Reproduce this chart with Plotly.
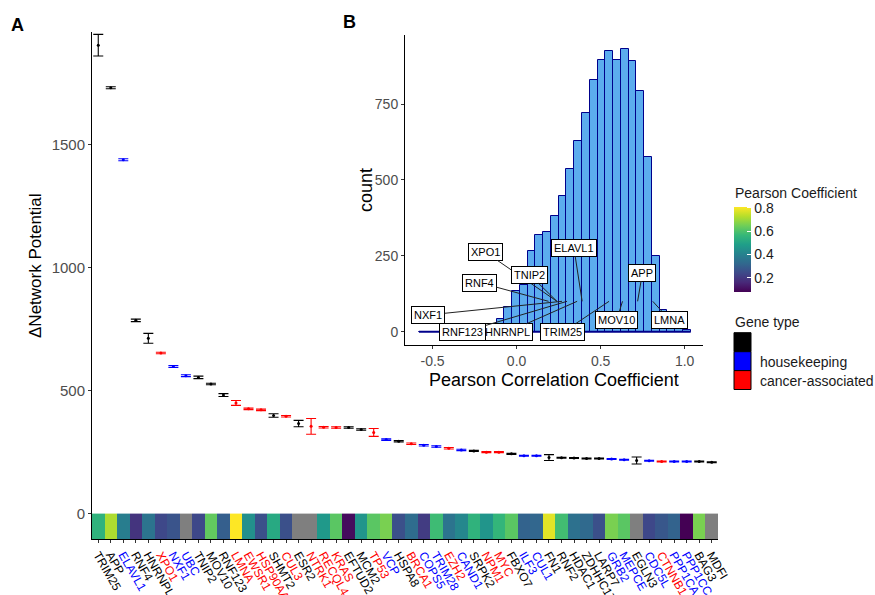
import plotly.graph_objects as go

W, H = 875, 595
def px(x): return x / W
def py(y): return (H - y) / H

FONT = "Liberation Sans, Arial, sans-serif"

# ---------------- data ----------------
genes = ["TRIM25", "APP", "ELAVL1", "RNF4", "HNRNPL", "XPO1", "NXF1", "UBC", "TNIP2", "MOV10",
         "RNF123", "LMNA", "EWSR1", "HSP90AA1", "SHMT2", "CUL3", "ESR2", "NTRK1", "RECQL4", "KRAS",
         "EFTUD2", "MCM2", "TP53", "VCP", "HSPA8", "BRCA1", "COPS5", "TRIM28", "EZH2", "CAND1",
         "SRPK2", "NPM1", "MYC", "FBXO7", "ILF3", "CUL1", "FN1", "RNF2", "HDAC1", "ZDHHC17",
         "LARP7", "GRB2", "MEPCE", "EGLN3", "CDC5L", "CTNNB1", "PPP1CA", "PPP1CC", "BAG3", "MDFI"]
gene_type = ["non", "non", "hk", "non", "non", "ca", "hk", "hk", "non", "non",
             "non", "ca", "ca", "ca", "non", "ca", "non", "ca", "ca", "ca",
             "non", "non", "ca", "hk", "non", "ca", "hk", "hk", "ca", "hk",
             "non", "ca", "ca", "non", "hk", "hk", "non", "non", "non", "non",
             "non", "hk", "hk", "non", "hk", "ca", "hk", "hk", "non", "non"]
delta_np = [1905, 1732, 1439, 786, 713, 653, 598, 561, 554, 527,
            482, 450, 426, 422, 399, 396, 366, 355, 351, 350,
            350, 342, 330, 301, 294, 284, 278, 273, 266, 259,
            255, 250, 250, 243, 235, 235, 228, 227, 226, 224,
            224, 222, 219, 216, 215, 212, 212, 212, 212, 209]
delta_err = [44, 4, 4, 5, 20, 3, 4, 4, 5, 3,
             6, 10, 3, 3, 7, 3, 13, 32, 3, 3,
             3, 3, 16, 3, 3, 3, 3, 3, 3, 3,
             2, 2, 2, 2, 2, 2, 12, 2, 2, 2,
             2, 2, 2, 14, 2, 2, 2, 2, 2, 2]
pearson = [0.55, 0.72, 0.39, 0.19, 0.36, 0.24, 0.27, None, 0.24, 0.63,
           0.30, 0.81, 0.445, 0.26, 0.52, 0.26, None, None, 0.47, 0.62,
           0.10, 0.46, 0.62, 0.66, 0.26, 0.34, 0.21, 0.58, 0.36, 0.42,
           0.55, 0.46, 0.56, 0.62, 0.31, 0.32, 0.78, 0.585, 0.35, 0.33,
           0.26, 0.66, 0.62, None, 0.24, 0.28, 0.31, 0.08, 0.66, None]

type_names = {"non": "", "hk": "housekeeping", "ca": "cancer-associated"}
type_colors = {"non": "black", "hk": "blue", "ca": "red"}

# histogram (inset B)
hist_start = -0.581
hist_binwidth = 0.0462
hist_counts = [0, 0, 0, 0, 0, 0, 0, 0, 0, 0,
               41, 80, 135, 155, 267, 320, 327, 380, 448, 535,
               628, 720, 830, 896, 925, 896, 933, 893, 792, 576,
               251, 72, 35, 15, 5]
inset_genes = ["TRIM25", "APP", "ELAVL1", "RNF4", "HNRNPL", "XPO1", "NXF1", "TNIP2",
               "MOV10", "RNF123", "LMNA"]
label_anchor_count = 100

y_ticks = [0, 500, 1000, 1500]
hist_x_ticks = [-0.5, 0.0, 0.5, 1.0]
hist_x_ticktext = ["-0.5", "0.0", "0.5", "1.0"]
hist_y_ticks = [0, 250, 500, 750]
cb_ticks = [0.2, 0.4, 0.6, 0.8]

# ---------------- figure ----------------
fig = go.Figure()
xs = list(range(1, len(genes) + 1))

# tiles
edges_x = [i + 0.5 for i in range(len(genes) + 1)]
tile_y = [-104.5, 0]
fig.add_trace(go.Heatmap(
    x=edges_x, y=tile_y,
    z=[[1 if p is None else None for p in pearson]],
    colorscale=[[0, "#7f7f7f"], [1, "#7f7f7f"]], showscale=False, hoverinfo="skip",
    xaxis="x", yaxis="y"))
fig.add_trace(go.Heatmap(
    x=edges_x, y=tile_y, z=[pearson],
    colorscale="Viridis", zmin=0.08, zmax=0.81,
    colorbar=dict(
        x=px(734), xanchor="left", y=py(249.2), yanchor="middle",
        len=85, lenmode="pixels", thickness=17, thicknessmode="pixels",
        xpad=0, ypad=0, outlinewidth=0,
        tickvals=cb_ticks, ticktext=[f"{v:.1f}" for v in cb_ticks],
        ticks="inside", ticklen=4, tickcolor="white", tickwidth=1,
        tickfont=dict(family=FONT, size=14, color="#1a1a1a")),
    xaxis="x", yaxis="y"))

# error bars by gene type
for t in ["non", "hk", "ca"]:
    idx = [i for i, g in enumerate(gene_type) if g == t]
    fig.add_trace(go.Scatter(
        x=[xs[i] for i in idx], y=[delta_np[i] for i in idx],
        mode="markers", marker=dict(size=3, color=type_colors[t]),
        error_y=dict(type="data", array=[delta_err[i] for i in idx],
                     color=type_colors[t], thickness=1.1, width=5),
        showlegend=False, xaxis="x", yaxis="y"))

# histogram inset
centers = [hist_start + hist_binwidth * (i + 0.5) for i in range(len(hist_counts))]
hist_end = hist_start + hist_binwidth * len(hist_counts)
fig.add_trace(go.Scatter(
    x=[hist_start, hist_end], y=[0, 0], mode="lines",
    line=dict(color="#00008B", width=2), showlegend=False, hoverinfo="skip",
    xaxis="x2", yaxis="y2"))
fig.add_trace(go.Bar(
    x=centers, y=hist_counts, width=hist_binwidth,
    marker=dict(color="#5CACEE", line=dict(color="#00008B", width=1)),
    showlegend=False, xaxis="x2", yaxis="y2"))

# tick labels coloured by gene type
ticktext = [f'<span style="color:{type_colors[t]}">{g}</span>' for g, t in zip(genes, gene_type)]

layout_font = dict(family=FONT, color="black")
fig.update_layout(
    width=W, height=H, margin=dict(l=0, r=0, t=0, b=0, autoexpand=False),
    paper_bgcolor="white", plot_bgcolor="white", font=layout_font,
    showlegend=False, bargap=0,
    xaxis=dict(domain=[px(92), px(718)], range=[0.5, 50.5], tickvals=xs, ticktext=ticktext,
               tickangle=60, tickfont=dict(family=FONT, size=12), ticks="outside", ticklen=3,
               tickcolor="#333333", showline=True, linecolor="black", linewidth=1,
               showgrid=False, zeroline=False, anchor="y", automargin=False),
    yaxis=dict(domain=[py(539.3), py(31.7)], range=[-104.5, 1960], tickvals=y_ticks,
               tickfont=dict(family=FONT, size=15, color="#4d4d4d"), ticks="outside", ticklen=3,
               tickcolor="#333333", showline=True, linecolor="black", linewidth=1,
               showgrid=False, zeroline=False, anchor="x", automargin=False),
    xaxis2=dict(domain=[px(405), px(703)], range=[-0.664, 1.109], tickvals=hist_x_ticks,
                ticktext=hist_x_ticktext, tickfont=dict(family=FONT, size=14, color="#4d4d4d"),
                ticks="outside", ticklen=3, tickcolor="#333333", showline=True,
                linecolor="black", linewidth=1, showgrid=False, zeroline=False, anchor="y2",
                automargin=False),
    yaxis2=dict(domain=[py(345), py(35)], range=[-44, 978], tickvals=hist_y_ticks,
                tickfont=dict(family=FONT, size=14, color="#4d4d4d"),
                ticks="outside", ticklen=3, tickcolor="#333333", showline=True,
                linecolor="black", linewidth=1, showgrid=False, zeroline=False, anchor="x2",
                automargin=False),
)

def text_ann(text, x, y, size, xanchor="center", angle=0, color="black"):
    return dict(text=text, x=px(x), y=py(y), xref="paper", yref="paper",
                xanchor=xanchor, yanchor="middle", textangle=angle, showarrow=False,
                font=dict(family=FONT, size=size, color=color))

ann = []
# panel letters
ann.append(text_ann("<b>A</b>", 17, 25, 18))
ann.append(text_ann("<b>B</b>", 349, 22, 18))
# axis titles
ann.append(text_ann("ΔNetwork Potential", 35, 266, 17, angle=-90))
ann.append(text_ann("count", 366, 190, 18, angle=-90))
ann.append(text_ann("Pearson Correlation Coefficient", 554, 380, 18))
# legends
ann.append(text_ann("Pearson Coefficient", 733, 193, 14, xanchor="left", color="#1a1a1a"))
ann.append(text_ann("Gene type", 733, 322, 14, xanchor="left", color="#1a1a1a"))

shapes = []
key_tops = {"non": 332.7, "hk": 351.7, "ca": 370.6}
for t in ["non", "hk", "ca"]:
    top = key_tops[t]
    shapes.append(dict(type="rect", xref="paper", yref="paper",
                       x0=px(734), x1=px(751), y0=py(top + 18.9), y1=py(top),
                       fillcolor=type_colors[t], line=dict(color="black", width=1)))
    if type_names[t]:
        ann.append(text_ann(type_names[t], 758, top + 10, 14, xanchor="left", color="#1a1a1a"))

# repel-style labels in inset (label placements)
label_pos = {"XPO1": (-0.188, 263), "TNIP2": (0.079, 187), "ELAVL1": (0.341, 276),
             "RNF4": (-0.222, 162), "APP": (0.749, 195), "NXF1": (-0.526, 55),
             "MOV10": (0.595, 37), "LMNA": (0.911, 39), "RNF123": (-0.321, -2),
             "HNRNPL": (-0.056, -2), "TRIM25": (0.275, -2)}
for g in inset_genes:
    p = pearson[genes.index(g)]
    lx, ly = label_pos[g]
    ann.append(dict(text=g, x=p, y=label_anchor_count, xref="x2", yref="y2",
                    ax=lx, ay=ly, axref="x2", ayref="y2", showarrow=True,
                    arrowhead=0, arrowwidth=1, arrowcolor="#222222", standoff=0,
                    bgcolor="white", bordercolor="black", borderwidth=1, borderpad=2,
                    font=dict(family=FONT, size=11, color="black")))

fig.update_layout(annotations=ann, shapes=shapes)
fig.write_html("out.html", config={"displayModeBar": False},
               post_script="document.body.style.margin='0px';document.body.style.overflow='hidden';")
